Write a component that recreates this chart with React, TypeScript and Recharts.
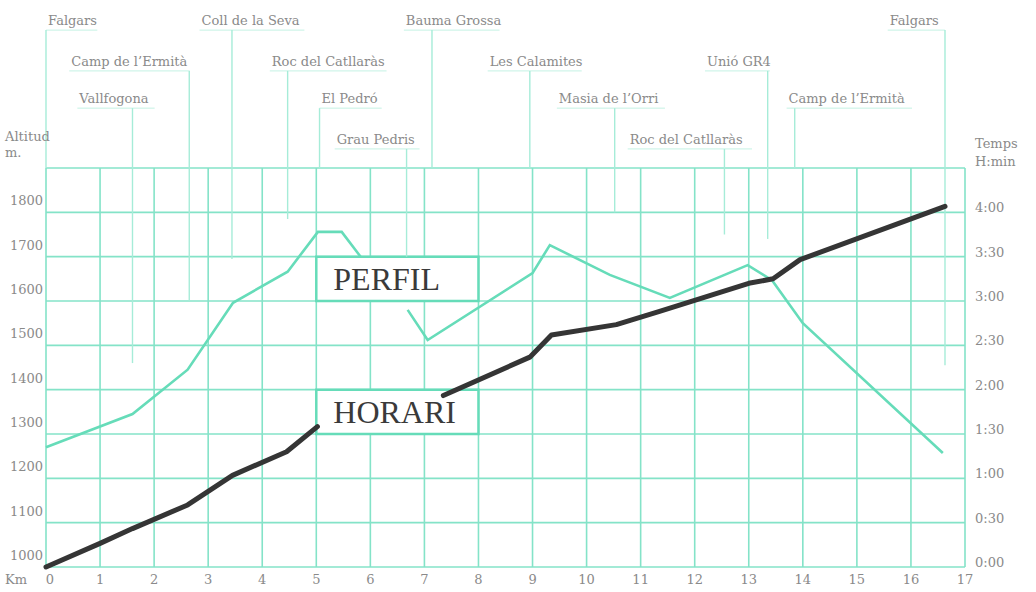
import React from 'react';
import {
  LineChart,
  Line,
  XAxis,
  YAxis,
  CartesianGrid,
  ReferenceArea,
  ReferenceLine,
} from 'recharts';

// axes
const kmTicks = [0, 1, 2, 3, 4, 5, 6, 7, 8, 9, 10, 11, 12, 13, 14, 15, 16, 17];
const altTicks = [1000, 1100, 1200, 1300, 1400, 1500, 1600, 1700, 1800, 1900];
const timeTicks = [0, 30, 60, 90, 120, 150, 180, 210, 240, 270];

// PERFIL (altitude, m) - the null is where the line goes under the label box
const profileKm = [0, 1.6, 2.62, 3.46, 4.47, 5.03, 5.47, 5.82, 6.2, 6.69, 7.06, 9.0, 9.32, 10.43, 11.54, 12.98, 13.43, 14.0, 16.59];
const profileAlt = [1270, 1345, 1445, 1596, 1666, 1756, 1756, 1700, null, 1580, 1512, 1663, 1726, 1659, 1607, 1681, 1647, 1550, 1257];

// HORARI (time, minutes)
const horariKm = [0, 1.0, 1.6, 2.62, 3.45, 4.45, 5.02, 6.2, 7.35, 8.95, 9.35, 10.55, 11.35, 13.0, 13.45, 13.95, 16.63];
const horariMin = [0, 16, 26, 42, 62, 78, 95, null, 116, 142, 157, 164, 173, 192, 195, 208, 244];

// place names along the route and the km they point at
const places = [
  'Falgars',
  'Camp de l\u2019Ermità',
  'Vallfogona',
  'Coll de la Seva',
  'Roc del Catllaràs',
  'El Pedró',
  'Grau Pedris',
  'Bauma Grossa',
  'Les Calamites',
  'Masia de l\u2019Orri',
  'Roc del Catllaràs',
  'Unió GR4',
  'Camp de l\u2019Ermità',
  'Falgars',
];
const placeKm = [0, 2.65, 1.6, 3.44, 4.47, 5.06, 6.67, 7.14, 8.95, 10.52, 12.55, 13.35, 13.85, 16.63];

// label layout: row, text span (km) and where the leader stops (m)
const placeRow = [0, 1, 2, 0, 1, 2, 3, 0, 1, 2, 3, 1, 2, 0];
const placeTextFrom = [0.06, 0.43, 0.58, 2.84, 4.14, 5.1, 5.34, 6.62, 8.17, 9.45, 10.76, 12.19, 13.7, 15.57];
const placeTextTo = [0.95, 2.66, 2.01, 4.78, 6.3, 6.21, 6.91, 8.39, 9.91, 11.45, 13.06, 13.39, 16.02, 16.5];
const placeLeaderEnd = [1900, 1600, 1460, 1695, 1785, 1900, 1700, 1900, 1900, 1800, 1750, 1740, 1900, 1455];
const rowAlt = [2211, 2119, 2035, 1943];

const profileData = profileKm.map((km, i) => ({ km, alt: profileAlt[i] }));
const horariData = horariKm.map((km, i) => ({ km, t: horariMin[i] }));

const TEAL = '#84e3c8';
const LINE_TEAL = '#66dcb9';
const LEADER = '#a6ecd8';
const UNDERLINE = '#c4f2e4';
const GREY = '#8a8a8a';
const SMALL = { fontFamily: '"DejaVu Serif", serif', fontSize: 13, fill: GREY };

const fmtTime = (m: number) => `${Math.floor(m / 60)}:${String(m % 60).padStart(2, '0')}`;

const AltTick = (props: any) => {
  const { y, payload } = props;
  if (payload.value > 1800) return <g />;
  return (
    <text x={43} y={y - 7} textAnchor="end" {...SMALL}>
      {payload.value}
    </text>
  );
};

const TimeTick = (props: any) => {
  const { y, payload } = props;
  if (payload.value > 240) return <g />;
  return (
    <text x={975} y={y} textAnchor="start" {...SMALL}>
      {fmtTime(payload.value)}
    </text>
  );
};

const KmTick = (props: any) => {
  const { x, payload } = props;
  return (
    <text x={x + (payload.value === 0 ? 4 : 0)} y={584} textAnchor="middle" {...SMALL}>
      {payload.value}
    </text>
  );
};

const boxLabel = (text: string) => (props: any) => {
  const vb = props.viewBox;
  if (!vb) return null;
  return (
    <text
      x={vb.x + 17}
      y={vb.y + vb.height / 2 + 11}
      fontFamily='"Liberation Serif", "Times New Roman", serif'
      fontSize={32}
      fill="#3a3a3a"
    >
      {text}
    </text>
  );
};

const placeLabel = (text: string) => (props: any) => {
  const vb = props.viewBox;
  if (!vb) return null;
  return (
    <text x={vb.x + 2} y={vb.y - 5} {...SMALL}>
      {text}
    </text>
  );
};

export default function App() {
  return (
    <div style={{ position: 'absolute', left: 0, top: 0, background: '#fff' }}>
      <LineChart
        width={1036}
        height={592}
        margin={{ top: 168, right: 0, bottom: 0, left: 0 }}
      >
        <CartesianGrid
          yAxisId="alt"
          stroke={TEAL}
          strokeWidth={1.6}
          strokeDasharray=""
        />
        <XAxis
          dataKey="km"
          type="number"
          domain={[0, 17]}
          ticks={kmTicks}
          interval={0}
          axisLine={false}
          tickLine={false}
          tick={KmTick}
          height={25}
          allowDuplicatedCategory={false}
          label={() => (
            <text x={5} y={584} {...SMALL}>
              Km
            </text>
          )}
        />
        <YAxis
          yAxisId="alt"
          orientation="left"
          type="number"
          domain={[1000, 1900]}
          ticks={altTicks}
          interval={0}
          axisLine={false}
          tickLine={false}
          tick={AltTick}
          width={46}
          label={() => (
            <g>
              <text x={5} y={141} {...SMALL}>Altitud</text>
              <text x={5} y={157} {...SMALL}>m.</text>
            </g>
          )}
        />
        <YAxis
          yAxisId="time"
          orientation="right"
          type="number"
          domain={[0, 270]}
          ticks={timeTicks}
          interval={0}
          axisLine={false}
          tickLine={false}
          tick={TimeTick}
          width={71}
          label={() => (
            <g>
              <text x={975} y={148} {...SMALL}>Temps</text>
              <text x={975} y={166} {...SMALL}>H:min</text>
            </g>
          )}
        />

        <ReferenceArea
          yAxisId="alt"
          x1={5}
          x2={8}
          y1={1600}
          y2={1700}
          fill="#ffffff"
          fillOpacity={1}
          stroke={LINE_TEAL}
          strokeWidth={2.5}
          label={boxLabel('PERFIL')}
        />
        <ReferenceArea
          yAxisId="alt"
          x1={5}
          x2={8}
          y1={1300}
          y2={1400}
          fill="#ffffff"
          fillOpacity={1}
          stroke={LINE_TEAL}
          strokeWidth={2.5}
          label={boxLabel('HORARI')}
        />

        {places.map((name, i) => {
          const y = rowAlt[placeRow[i]];
          const from = Math.min(placeTextFrom[i], placeKm[i]);
          const to = Math.max(placeTextTo[i], placeKm[i]);
          return (
            <ReferenceLine
              key={`u-${i}`}
              yAxisId="alt"
              ifOverflow="visible"
              segment={[
                { x: from, y },
                { x: to, y },
              ]}
              stroke={UNDERLINE}
              strokeWidth={1}
              label={placeLabel(name)}
            />
          );
        })}
        {places.map((name, i) => (
          <ReferenceLine
            key={`l-${i}`}
            yAxisId="alt"
            ifOverflow="visible"
            segment={[
              { x: placeKm[i], y: rowAlt[placeRow[i]] },
              { x: placeKm[i], y: placeLeaderEnd[i] },
            ]}
            stroke={LEADER}
            strokeWidth={1.4}
          />
        ))}

        <Line
          yAxisId="alt"
          data={profileData}
          dataKey="alt"
          type="linear"
          stroke={LINE_TEAL}
          strokeWidth={2.6}
          dot={false}
          activeDot={false}
          connectNulls={false}
          isAnimationActive={false}
        />
        <Line
          yAxisId="time"
          data={horariData}
          dataKey="t"
          type="linear"
          stroke="#353535"
          strokeWidth={5}
          strokeLinecap="round"
          strokeLinejoin="round"
          dot={false}
          activeDot={false}
          connectNulls={false}
          isAnimationActive={false}
        />
      </LineChart>
    </div>
  );
}
